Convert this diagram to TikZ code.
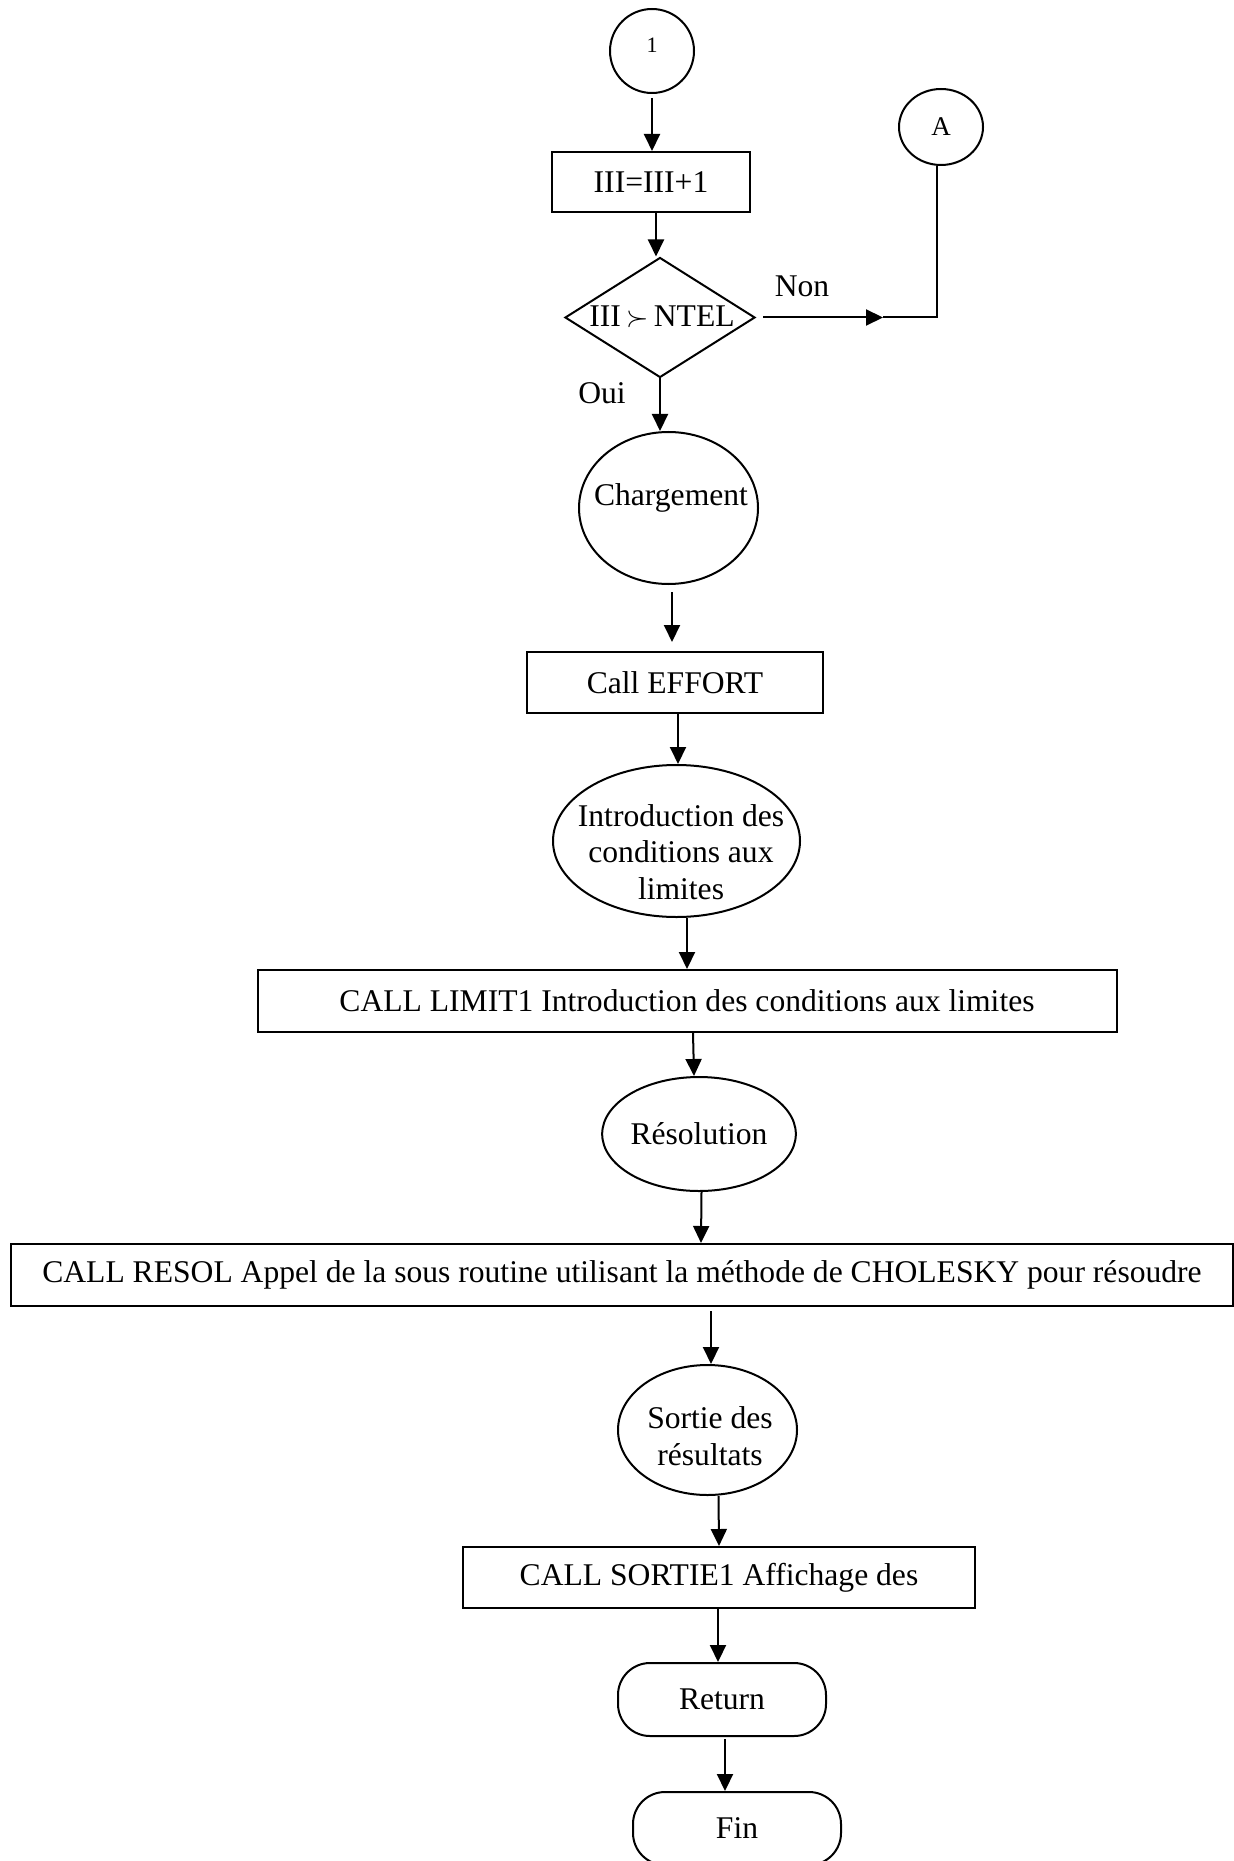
\documentclass[tikz,border=0pt]{standalone}
\usepackage{fontspec}
\setmainfont{Liberation Serif}
\usetikzlibrary{arrows.meta,shapes.geometric}

\begin{document}
\begin{tikzpicture}[x=0.5pt,y=-0.5pt,
  every node/.style={font=\fontsize{15.8}{18.2}\selectfont, inner sep=0pt},
  line/.style={line width=1pt},
  arr/.style={line width=1pt,-{Triangle[length=8.5pt,width=8pt]}},
  box/.style={draw,line width=1pt,rectangle},
  oval/.style={draw,line width=1pt,ellipse},
  term/.style={draw,line width=1pt,rectangle,rounded corners=16pt},
  txt/.style={align=center}
]
\useasboundingbox (0,0) rectangle (1234,1861);

% connector circles
\node[oval,minimum width=42pt,minimum height=42pt] (c1) at (652,51) {};
\node[font=\fontsize{11}{13}\selectfont] (c1t) at (652,45) {1};
\node[oval,minimum width=42pt,minimum height=38pt,font=\fontsize{13.5}{15}\selectfont] (A) at (941,127) {A};

% loop counter and test
\node[box,minimum width=99pt,minimum height=30pt] (b1) at (651,182) {III=III+1};
\node[draw,diamond,line width=1pt,minimum width=95pt,minimum height=60pt] (dia) at (660,317.5) {};
\node (diat) at (662,317) {III\thinspace$\succ$\thinspace NTEL};
\node (non) at (802,286) {Non};
\node (oui) at (602,393) {Oui};

% main sequence
\node[oval,minimum width=89.5pt,minimum height=76pt] (chg) at (668.5,508) {};
\node (chgt) at (671,498) {Chargement};
\node[box,minimum width=148pt,minimum height=30.5pt] (eff) at (675,682.5) {Call EFFORT};
\node[oval,minimum width=123.5pt,minimum height=76pt] (intro) at (676.5,841) {};
\node[txt] (introt) at (681,852) {Introduction des\\conditions aux\\limites};
\node[box,minimum width=429.5pt,minimum height=31pt] (lim) at (687,1001) {CALL LIMIT1 Introduction des conditions aux limites};
\node[oval,minimum width=89pt,minimum height=57pt] (res) at (699,1134) {Résolution};
\node[box,minimum width=611pt,minimum height=31pt] (resol) at (622,1275) {CALL RESOL Appel de la sous routine utilisant la méthode de CHOLESKY pour résoudre};
\node[oval,minimum width=89.5pt,minimum height=65pt] (sor) at (707.5,1430) {};
\node[txt] (sort) at (710,1436) {Sortie des\\résultats};
\node[box,minimum width=256pt,minimum height=30.5pt] (s1) at (719,1577.5) {CALL SORTIE1 Affichage des};
\node[term,minimum width=104pt,minimum height=36.5pt] (ret) at (722,1699.5) {Return};
\node[term,minimum width=104pt,minimum height=36.5pt] (fin) at (737,1828.5) {Fin};

% "Non" branch towards connector A
\coordinate (nonmid) at (883,317.5);
\coordinate (corner) at (937,317.5);
\draw[arr,shorten <=3.5pt] (dia.east) -- (nonmid);
\draw[line] (nonmid) -- (corner) -- ([xshift=-2pt]A.south);

% vertical flow
\draw[arr,shorten <=2pt] (c1) -- (c1 |- b1.north);
\draw[arr] ([xshift=2.5pt]b1.south) -- ([xshift=-2pt]dia.north);
\draw[arr] (dia.south) -- (dia.south |- chg.north);
\draw[arr,shorten <=3.5pt,shorten >=4.5pt] ([xshift=1.75pt]chg.south) -- ([xshift=-1.5pt]eff.north);
\draw[arr] ([xshift=1.5pt]eff.south) -- ([xshift=0.75pt]intro.north);
\draw[arr] ([xshift=5.25pt]intro.south) -- (lim.north);
\draw[arr] ([xshift=3pt]lim.south) -- ([xshift=-2.5pt]res.north);
\draw[arr] ([xshift=1.25pt]res.south) -- ([xshift=39.5pt]resol.north);
\draw[arr,shorten <=2pt] ([xshift=44.5pt]resol.south) -- ([xshift=1.75pt]sor.north);
\draw[arr] ([xshift=5.5pt]sor.south) -- (s1.north);
\draw[arr] ([xshift=-0.5pt]s1.south) -- ([xshift=-2pt]ret.north);
\draw[arr,shorten <=1pt] ([xshift=1.5pt]ret.south) -- ([xshift=-6pt]fin.north);
\end{tikzpicture}
\end{document}
